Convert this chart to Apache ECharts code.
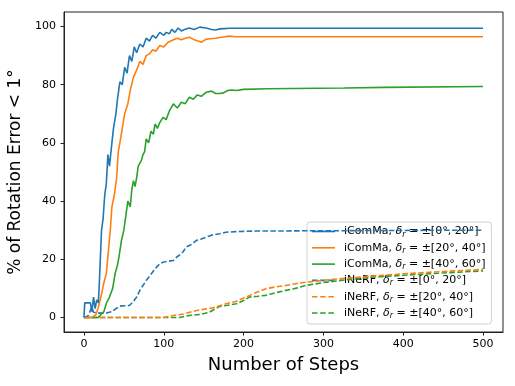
<!DOCTYPE html>
<html>
<head>
<meta charset="utf-8">
<script src="https://cdn.jsdelivr.net/npm/echarts@6/dist/echarts.min.js"></script>
<style>
  html, body { margin: 0; padding: 0; background: #fff; }
  #chart { width: 515px; height: 386px; }
</style>
</head>
<body>
<div id="chart"></div>
<script>
// series names shown in the legend
const seriesNames = [
  'iComMa, δr = ±[0°, 20°]',
  'iComMa, δr = ±[20°, 40°]',
  'iComMa, δr = ±[40°, 60°]',
  'iNeRF, δr = ±[0°, 20°]',
  'iNeRF, δr = ±[20°, 40°]',
  'iNeRF, δr = ±[40°, 60°]'
];

const xTicks = [0, 100, 200, 300, 400, 500];
const yTicks = [0, 20, 40, 60, 80, 100];

// iComMa, 0-20
const comma1Steps = [0, 1, 8, 10, 12, 14, 16, 18, 19, 22, 24, 26, 28, 30, 32, 35, 37, 40, 42, 45, 48, 51, 54, 57, 60, 63, 66, 70, 74, 78, 82, 86, 90, 95, 100, 103, 107, 110, 114, 118, 122, 126, 132, 138, 145, 153, 160, 165, 170, 176, 182, 189, 200, 250, 300, 350, 400, 450, 500];
const comma1Vals = [0, 5, 5, 2, 7, 3, 6, 5, 10, 30, 34, 42, 46, 56, 52, 60, 65, 70, 75, 81, 80, 86, 84, 90, 88, 93, 91, 94, 93, 96, 95, 97, 96, 98, 97, 98, 97.5, 99, 98, 99.5, 98.5, 99, 99.5, 99, 99.8, 99.5, 99, 98.8, 99.2, 99.3, 99.4, 99.4, 99.4, 99.4, 99.4, 99.4, 99.4, 99.4, 99.4];

// iComMa, 20-40
const comma2Steps = [0, 10, 15, 18, 22, 25, 28, 30, 33, 35, 38, 41, 43, 45, 48, 51, 55, 58, 62, 66, 70, 74, 78, 82, 86, 90, 95, 100, 105, 110, 117, 122, 127, 132, 138, 143, 147, 152, 157, 165, 172, 182, 190, 200, 500];
const comma2Vals = [0, 0, 1, 3.5, 8, 12, 15, 21, 30, 38, 42, 48, 57, 60, 65, 70, 73.5, 78, 82.6, 85, 88, 87, 90, 90.6, 92, 91.5, 93.5, 93, 94.5, 95.2, 96, 95.5, 96, 96.3, 95.5, 95, 94.6, 95.5, 95.8, 96, 96.3, 96.7, 96.5, 96.5, 96.5];

// iComMa, 40-60
const comma3Steps = [0, 18, 22, 25, 28, 32, 36, 39, 42, 44, 47, 50, 53, 55, 58, 60, 62, 64, 66, 68, 70, 72, 74, 76, 78, 81, 84, 87, 89, 92, 95, 99, 103, 107, 112, 117, 122, 127, 132, 137, 142, 147, 153, 160, 165, 170, 175, 180, 185, 191, 200, 230, 231, 326, 327, 377, 378, 500];
const comma3Vals = [0, 0, 1.3, 2, 4.8, 7, 10, 15, 18, 21, 26.5, 30, 36, 40, 38, 44, 47, 45, 48, 52, 51.6, 54, 56, 57, 61.4, 60, 64, 63, 66.5, 65, 67, 68.8, 68, 71, 73.4, 72, 74, 73.5, 75.7, 75, 76.5, 76, 77.4, 77.8, 77, 77, 77.2, 78, 78.2, 78, 78.4, 78.6, 78.9, 78.9, 79.1, 79.1, 79.4, 79.4];

// iNeRF, 0-20
const nerf1Steps = [0, 5, 10, 12, 20, 28, 35, 40, 45, 57, 62, 66, 70, 74, 78, 83, 87, 91, 95, 99, 105, 112, 116, 120, 124, 128, 134, 141, 147, 153, 160, 170, 178, 190, 200, 216, 240, 280, 320, 360, 400, 450, 500];
const nerf1Vals = [0, 0.5, 3.5, 1.8, 1.5, 1.5, 2, 3, 3.9, 4.1, 5.5, 7, 9.3, 11, 12.7, 14.5, 16, 17.3, 18.5, 19, 19.3, 19.6, 20.7, 21.5, 22.5, 24.2, 25, 26.5, 27, 27.6, 28.3, 28.8, 29.3, 29.5, 29.6, 29.7, 29.7, 29.8, 29.8, 29.9, 29.9, 30, 30];

// iNeRF, 20-40
const nerf2Steps = [0, 100, 112, 125, 135, 145, 160, 178, 190, 203, 215, 228, 240, 253, 265, 278, 300, 330, 360, 400, 450, 500];
const nerf2Vals = [0, 0, 0.7, 1.2, 2, 2.6, 3.2, 4.7, 5.5, 7, 8.5, 9.9, 10.5, 11, 11.6, 12.1, 12.8, 13.5, 14.2, 15, 15.8, 16.5];

// iNeRF, 40-60
const nerf3Steps = [0, 120, 132, 145, 157, 170, 180, 191, 200, 207, 218, 228, 240, 253, 265, 278, 300, 330, 360, 400, 450, 500];
const nerf3Vals = [0, 0, 0.7, 1, 1.8, 3.8, 4.2, 4.7, 5.8, 7, 7.3, 7.6, 8.5, 9.3, 10, 11, 12, 13, 13.8, 14.5, 15.3, 16];

const colors = ['#1f77b4', '#ff7f0e', '#2ca02c'];
const stepsList = [comma1Steps, comma2Steps, comma3Steps, nerf1Steps, nerf2Steps, nerf3Steps];
const valsList = [comma1Vals, comma2Vals, comma3Vals, nerf1Vals, nerf2Vals, nerf3Vals];

const font = 'DejaVu Sans';

// legend handles: a solid bar or three dashes
const solidIcon = 'path://M0,0h23v1.6h-23z';
const dashIcon = 'path://M0,0h5.5v1.6h-5.5z M8.2,0h5.5v1.6h-5.5z M16.4,0h5.5v1.6h-5.5z M23,0h0v1.6h0z';

const chart = echarts.init(document.getElementById('chart'));

const series = seriesNames.map((name, k) => ({
  name: name,
  type: 'line',
  data: stepsList[k].map((s, i) => [s, valsList[k][i]]),
  symbol: 'none',
  showSymbol: false,
  color: colors[k % 3],
  z: 10 - k,
  lineStyle: {
    width: 1.6,
    color: colors[k % 3],
    type: k < 3 ? 'solid' : [5.5, 2.4]
  },
  emphasis: { disabled: true }
}));

chart.setOption({
  animation: false,
  backgroundColor: '#fff',
  grid: {
    left: 64,
    right: 12,
    top: 12,
    bottom: 54,
    show: true,
    borderColor: '#222',
    borderWidth: 1,
    outerBoundsMode: 'none'
  },
  xAxis: {
    type: 'value',
    min: -25,
    max: 525,
    name: 'Number of Steps',
    nameLocation: 'middle',
    nameGap: 24,
    nameTextStyle: { fontFamily: font, fontSize: 18, color: '#000' },
    splitLine: { show: false },
    axisLine: { show: true, onZero: false, lineStyle: { color: '#222', width: 1 } },
    axisTick: { show: true, length: 3.5, lineStyle: { color: '#222' }, customValues: xTicks },
    axisLabel: { fontFamily: font, fontSize: 11, color: '#000', margin: 7, customValues: xTicks }
  },
  yAxis: {
    type: 'value',
    min: -5,
    max: 105,
    name: '% of Rotation Error < 1°',
    nameLocation: 'middle',
    nameGap: 35,
    nameTextStyle: { fontFamily: font, fontSize: 17, color: '#000' },
    splitLine: { show: false },
    axisLine: { show: true, onZero: false, lineStyle: { color: '#222', width: 1 } },
    axisTick: { show: true, length: 3.5, lineStyle: { color: '#222' }, customValues: yTicks },
    axisLabel: { fontFamily: font, fontSize: 11, color: '#000', margin: 8, customValues: yTicks }
  },
  legend: {
    orient: 'vertical',
    left: 307,
    top: 222,
    padding: [4, 6, 4, 5],
    itemWidth: 23,
    itemHeight: 1.6,
    itemGap: 3.8,
    backgroundColor: 'rgba(255,255,255,0.8)',
    borderColor: '#d0d0d0',
    borderWidth: 1,
    borderRadius: 3,
    data: seriesNames.map((name, k) => ({ name: name, icon: k < 3 ? solidIcon : dashIcon })),
    formatter: function (name) {
      const parts = name.split('δr');
      return '{t|' + parts[0] + '}{i|δ}{s|r}{t|' + parts[1] + '}';
    },
    textStyle: {
      fontFamily: font,
      fontSize: 11,
      color: '#000',
      padding: [0, 0, 0, 4],
      rich: {
        t: { fontFamily: font, fontSize: 11, color: '#000', lineHeight: 14 },
        i: { fontFamily: font, fontSize: 11, fontStyle: 'italic', color: '#000', lineHeight: 14 },
        s: { fontFamily: font, fontSize: 8, fontStyle: 'italic', color: '#000', verticalAlign: 'bottom', lineHeight: 14, padding: [4, 0, 0, 0] }
      }
    }
  },
  series: series
});
</script>
</body>
</html>
